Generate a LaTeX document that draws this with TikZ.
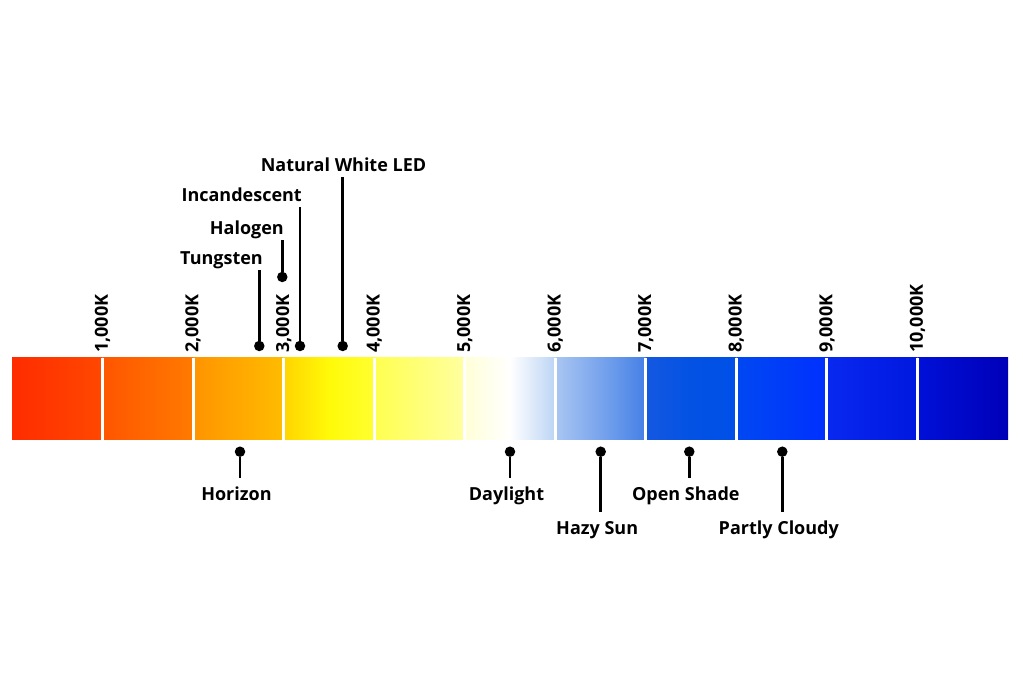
\documentclass[tikz,border=0pt]{standalone}
\usepackage{fontspec}
\setmainfont{Open Sans}
\usetikzlibrary{positioning}

% Bar colours, left / middle / right of each section.
\definecolor{sa1}{HTML}{FF2C00}\definecolor{sm1}{HTML}{FF3A00}\definecolor{sb1}{HTML}{FF4800}
\definecolor{sa2}{HTML}{FF5500}\definecolor{sm2}{HTML}{FF6800}\definecolor{sb2}{HTML}{FF7A00}
\definecolor{sa3}{HTML}{FF9400}\definecolor{sm3}{HTML}{FFA800}\definecolor{sb3}{HTML}{FFBC00}
\definecolor{sa4}{HTML}{FFD400}\definecolor{sm4}{HTML}{FFFA08}\definecolor{sb4}{HTML}{FFFF30}
\definecolor{sa5}{HTML}{FFFF50}\definecolor{sm5}{HTML}{FFFF78}\definecolor{sb5}{HTML}{FFFFA0}
\definecolor{sa6}{HTML}{FFFFD8}\definecolor{sm6}{HTML}{FFFFFF}\definecolor{sb6}{HTML}{BCD4F5}
\definecolor{sa7}{HTML}{AAC6F2}\definecolor{sm7}{HTML}{78A4EC}\definecolor{sb7}{HTML}{4580E6}
\definecolor{sa8}{HTML}{1458E0}\definecolor{sm8}{HTML}{0352E4}\definecolor{sb8}{HTML}{0050E8}
\definecolor{sa9}{HTML}{0048F2}\definecolor{sm9}{HTML}{003CF8}\definecolor{sb9}{HTML}{0030FF}
\definecolor{sa10}{HTML}{0828F0}\definecolor{sm10}{HTML}{0420E8}\definecolor{sb10}{HTML}{0018E0}
\definecolor{sa11}{HTML}{0010D8}\definecolor{sm11}{HTML}{0008C8}\definecolor{sb11}{HTML}{0000B8}

\begin{document}
\begin{tikzpicture}[
		x=1pt, y=1pt,
		lbl/.style = {font=\fontsize{18}{20}\selectfont\bfseries, inner sep=0pt},
		toplbl/.style = {lbl, text depth=4.5pt},
		botlbl/.style = {lbl, text height=22pt, node distance=21pt},
		tick/.style = {lbl, rotate=90, anchor=west},
		pin/.style = {circle, fill=black, inner sep=0pt, minimum size=10.5pt},
		leader/.style = {line width=2.8pt}
	]
	\useasboundingbox (0,0) rectangle (1023,682);
	% Colour bar.
	\foreach \k in {1,...,11}
		\shade[left color=sa\k, right color=sb\k, middle color=sm\k]
			({12+(\k-1)*90.545},242) rectangle ({12+\k*90.545},324);
	\foreach \k in {1,...,10} {
		\draw[white, line width=3pt] ({12+\k*90.545},242) -- ({12+\k*90.545},324);
		\node[tick] (t\k) at ({12+\k*90.545},329) {\k,000K};
	}
	% Above the bar.
	\node[pin] (tung-dot) at (259.3,336) {};
	\node[pin] (halo-dot) at (282.3,405) {};
	\node[pin] (inca-dot) at (300,336) {};
	\node[pin] (led-dot) at (342.7,336) {};
	\node[toplbl, anchor=base east] (tung) at (263,417) {Tungsten};
	\node[toplbl, anchor=base east] (halo) at (284,447) {Halogen};
	\node[toplbl, anchor=base east] (inca) at (302,480) {Incandescent};
	\node[toplbl, anchor=base] (led) at (343.5,510) {Natural White LED};
	\draw[leader] (tung-dot) -- (tung-dot |- tung.south);
	\draw[leader] (halo-dot) -- (halo-dot |- halo.south);
	\draw[leader] (inca-dot) -- (inca-dot |- inca.south);
	\draw[leader] (led-dot) -- (led-dot |- led.south);
	% Below the bar.
	\node[pin] (hor-dot) at (240,230.3) {};
	\node[pin] (day-dot) at (510,230.3) {};
	\node[pin] (hazy-dot) at (600.7,230.3) {};
	\node[pin] (shade-dot) at (689.3,230.3) {};
	\node[pin] (cloud-dot) at (782.3,230.3) {};
	\node[botlbl, below=of hor-dot, xshift=-3.5pt] (hor) {Horizon};
	\node[botlbl, below=of day-dot, xshift=-3.5pt] (day) {Daylight};
	\node[botlbl, below=55pt of hazy-dot, xshift=-3.5pt] (hazy) {Hazy Sun};
	\node[botlbl, below=of shade-dot, xshift=-3.5pt] (shade) {Open Shade};
	\node[botlbl, below=55pt of cloud-dot, xshift=-3.5pt] (cloud) {Partly Cloudy};
	\draw[leader] (hor-dot) -- (hor-dot |- hor.north);
	\draw[leader] (day-dot) -- (day-dot |- day.north);
	\draw[leader] (hazy-dot) -- (hazy-dot |- hazy.north);
	\draw[leader] (shade-dot) -- (shade-dot |- shade.north);
	\draw[leader] (cloud-dot) -- (cloud-dot |- cloud.north);
\end{tikzpicture}
\end{document}
